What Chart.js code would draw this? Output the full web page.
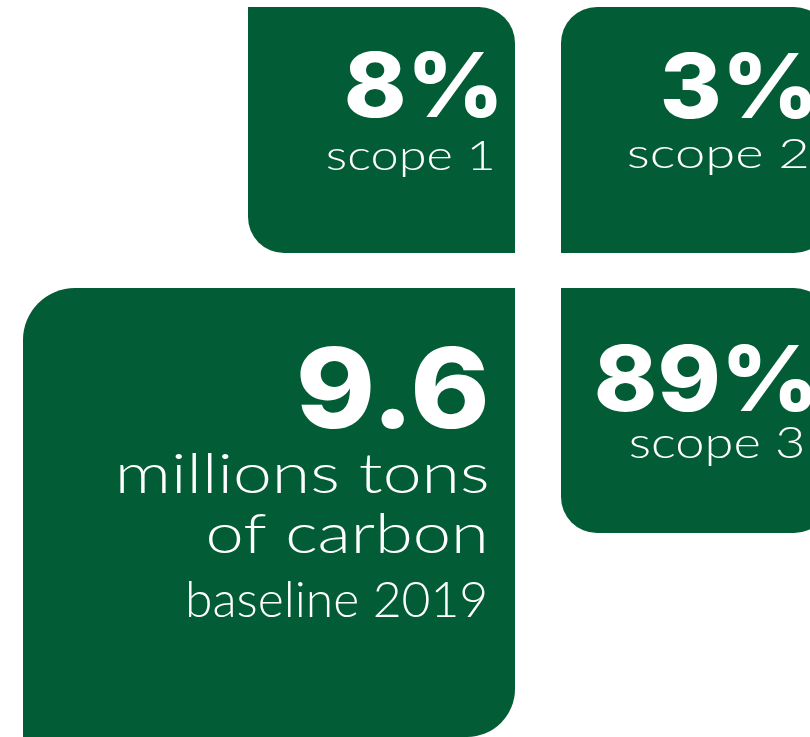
<!DOCTYPE html>
<html>
<head>
<meta charset="utf-8">
<title>Carbon baseline</title>
<script src="https://cdn.jsdelivr.net/npm/chart.js@4.4.1/dist/chart.umd.min.js"></script>
<style>
  html, body { margin: 0; padding: 0; background: #ffffff; overflow: hidden; }
  #carbonChart { display: block; }
</style>
</head>
<body>
<canvas id="carbonChart" width="810" height="737"></canvas>
<script>
// figures shown on the infographic
const scopeLabels = ["scope 1", "scope 2", "scope 3"];
const scopeShares = [8, 3, 89];            // % of the baseline
const baselineTotal = 9.6;                 // millions tons
const baselineLines = ["millions tons", "of carbon", "baseline 2019"];

const GREEN = "#025c36";
const BOLD_FONT = "Inter, 'DejaVu Sans', sans-serif";
const LIGHT_FONT = "Lato, Inter, sans-serif";

// tiles, in page units (both scales run 1 unit per pixel)
const tiles = [
    { name: "scope 1", x0: 248, x1: 515, y0: 7,   y1: 253, r: { topLeft: 0,  topRight: 36, bottomLeft: 36, bottomRight: 0 } },
    { name: "scope 2", x0: 561, x1: 830, y0: 7,   y1: 253, r: { topLeft: 36, topRight: 36, bottomLeft: 0,  bottomRight: 36 } },
    { name: "total",   x0: 23,  x1: 515, y0: 288, y1: 737, r: { topLeft: 52, topRight: 0,  bottomLeft: 0,  bottomRight: 48 } },
    { name: "scope 3", x0: 561, x1: 830, y0: 288, y1: 533, r: { topLeft: 0,  topRight: 36, bottomLeft: 36, bottomRight: 36 } }
];

// text blocks: tile index, offset from tile's right edge / top edge, cap height, ink width
function textBlocks() {
    return [
        { tile: 0, text: scopeShares[0] + "%", bold: true,  dx: 18, dy: 110, cap: 65, w: 150 },
        { tile: 0, text: scopeLabels[0],       bold: false, dx: 23, dy: 163, cap: 30, w: 165 },
        { tile: 1, text: scopeShares[1] + "%", bold: true,  dx: 18, dy: 111, cap: 65, w: 149 },
        { tile: 1, text: scopeLabels[1],       bold: false, dx: 23, dy: 161, cap: 30, w: 179 },
        { tile: 3, text: scopeShares[2] + "%", bold: true,  dx: 18, dy: 123, cap: 66, w: 215 },
        { tile: 3, text: scopeLabels[2],       bold: false, dx: 27, dy: 170, cap: 31, w: 173 },
        { tile: 2, text: String(baselineTotal), bold: true, dx: 30, dy: 140, cap: 81, w: 185 },
        { tile: 2, text: baselineLines[0],     bold: false, dx: 28, dy: 205, cap: 39, w: 367 },
        { tile: 2, text: baselineLines[1],     bold: false, dx: 31, dy: 265, cap: 39, w: 276 },
        { tile: 2, text: baselineLines[2],     bold: false, dx: 30, dy: 329, cap: 35, w: 297 }
    ];
}

function fontFor(bold, size) {
    return bold ? `800 ${size}px ${BOLD_FONT}` : `300 ${size}px ${LIGHT_FONT}`;
}

// writes the figures into the tiles, positioned off the drawn bar elements
const tileText = {
    id: "tileText",
    afterDatasetsDraw(chart) {
        const ctx = chart.ctx;
        ctx.save();
        ctx.fillStyle = "#ffffff";
        ctx.textBaseline = "alphabetic";
        ctx.textAlign = "left";
        textBlocks().forEach(b => {
            const bar = chart.getDatasetMeta(b.tile).data[0];
            const p = bar.getProps(["x", "y", "base", "width"], true);
            const right = p.x + p.width / 2;
            const top = Math.min(p.y, p.base);

            ctx.font = fontFor(b.bold, 100);
            const capRatio = ctx.measureText("H").actualBoundingBoxAscent / 100;
            const size = b.cap / capRatio;
            ctx.font = fontFor(b.bold, size);
            const m = ctx.measureText(b.text);
            const ink = m.actualBoundingBoxLeft + m.actualBoundingBoxRight;
            const sx = b.w / ink;

            ctx.save();
            ctx.translate(right - b.dx - sx * m.actualBoundingBoxRight, top + b.dy);
            ctx.scale(sx, 1);
            ctx.fillText(b.text, 0, 0);
            ctx.restore();
        });
        ctx.restore();
    }
};

function drawChart() {
    const ctx = document.getElementById("carbonChart").getContext("2d");

    const datasets = tiles.map(t => ({
        label: t.name,
        data: [{ x: (t.x0 + t.x1) / 2, y: [t.y0, t.y1] }],
        barThickness: t.x1 - t.x0,
        backgroundColor: GREEN,
        borderWidth: 0,
        borderRadius: t.r,
        borderSkipped: false,
        grouped: false,
        inflateAmount: 0
    }));

    window.carbonChart = new Chart(ctx, {
        type: "bar",
        data: { datasets: datasets },
        options: {
            responsive: false,
            animation: false,
            devicePixelRatio: 1,
            layout: { padding: 0 },
            scales: {
                x: { type: "linear", min: 0, max: 810, offset: false, display: false },
                y: { type: "linear", min: 0, max: 737, reverse: true, display: false }
            },
            plugins: {
                legend: { display: false },
                tooltip: { enabled: false }
            }
        },
        plugins: [tileText]
    });
}

Promise.all([
    document.fonts.load(fontFor(true, 40)),
    document.fonts.load(fontFor(false, 40))
]).catch(() => {}).then(drawChart);
</script>
</body>
</html>
